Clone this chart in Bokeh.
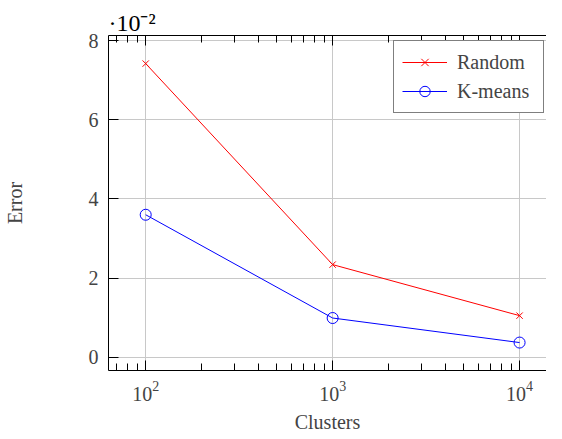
from bokeh.plotting import figure
from bokeh.models import (LogAxis, LogTicker, FixedTicker, CustomJSTickFormatter,
                          Title, Range1d, Legend)
from bokeh.embed import file_html
from bokeh.resources import INLINE

clusters = [100, 1000, 10000]
random_err = [0.0742, 0.0234, 0.0105]
kmeans_err = [0.0360, 0.0099, 0.0037]
y_ticks = [0, 0.02, 0.04, 0.06, 0.08]
scale_label = "\u00b710\u207b\u00b2"

FONT = "Liberation Serif"

p = figure(width=546, height=436, x_axis_type="log",
           x_range=Range1d(10 ** 1.801, 10 ** 4.144),
           y_range=Range1d(-0.00336, 0.0813),
           output_backend="svg", toolbar_location=None,
           min_border_left=102, min_border_right=0,
           min_border_top=35, min_border_bottom=66)
p.outline_line_color = None
p.background_fill_color = "white"
p.border_fill_color = "white"

for g in (p.xgrid, p.ygrid):
    g.grid_line_color = "#c8c8c8"
    g.grid_line_width = 1

xa = p.xaxis[0]
xa.ticker = LogTicker(num_minor_ticks=10)
xa.axis_label = "Clusters"
xa.axis_label_text_font = FONT
xa.axis_label_text_font_style = "normal"
xa.axis_label_text_font_size = "20px"
xa.axis_label_standoff = 7
xa.major_label_text_font = FONT
xa.major_label_text_font_size = "20px"
xa.major_label_standoff = 10
xa.major_tick_in = 10
xa.major_tick_out = 0
xa.minor_tick_in = 7
xa.minor_tick_out = 0
xa.axis_line_color = "black"
xa.major_tick_line_color = "black"
xa.minor_tick_line_color = "black"

ya = p.yaxis[0]
ya.ticker = FixedTicker(ticks=y_ticks)
ya.formatter = CustomJSTickFormatter(code="return (tick*100).toFixed(0);")
ya.axis_label = "Error"
ya.axis_label_text_font = FONT
ya.axis_label_text_font_style = "normal"
ya.axis_label_text_font_size = "20px"
ya.axis_label_standoff = 60
ya.major_label_text_font = FONT
ya.major_label_text_font_size = "20px"
ya.major_label_standoff = 10
ya.major_tick_in = 10
ya.major_tick_out = 0
ya.minor_tick_line_color = None
ya.axis_line_color = "black"
ya.major_tick_line_color = "black"

ta = LogAxis(ticker=LogTicker(num_minor_ticks=10),
             major_label_text_font_size="1px", major_label_text_alpha=0,
             major_label_standoff=0,
             major_tick_in=10, major_tick_out=0,
             minor_tick_in=7, minor_tick_out=0,
             axis_line_color="black", major_tick_line_color="black",
             minor_tick_line_color="black")
p.add_layout(ta, "above")

p.add_layout(Title(text=scale_label, align="left", text_font=FONT,
                   text_font_size="24px", text_font_style="normal",
                   text_color="black", standoff=0, offset=0), "above")

r1 = p.line(clusters, random_err, line_color="#ff0000", line_width=1)
m1 = p.scatter(clusters, random_err, marker="x", size=9,
               line_color="#ff0000", line_width=1)
r2 = p.line(clusters, kmeans_err, line_color="#0000ff", line_width=1)
m2 = p.scatter(clusters, kmeans_err, marker="circle", size=11,
               line_color="#0000ff", fill_color=None, line_width=1)

legend = Legend(items=[("Random", [r1, m1]), ("K-means", [r2, m2])],
                location=(285, 257))
legend.label_text_font = FONT
legend.label_text_font_size = "20px"
legend.label_height = 26
legend.label_width = 78
legend.glyph_height = 26
legend.glyph_width = 45
legend.label_standoff = 10
legend.spacing = 3
legend.padding = 8
legend.margin = 0
legend.border_line_color = "black"
legend.border_line_width = 1
legend.background_fill_alpha = 1
p.add_layout(legend, "center")

open("out.html", "w").write(file_html(p, INLINE))
